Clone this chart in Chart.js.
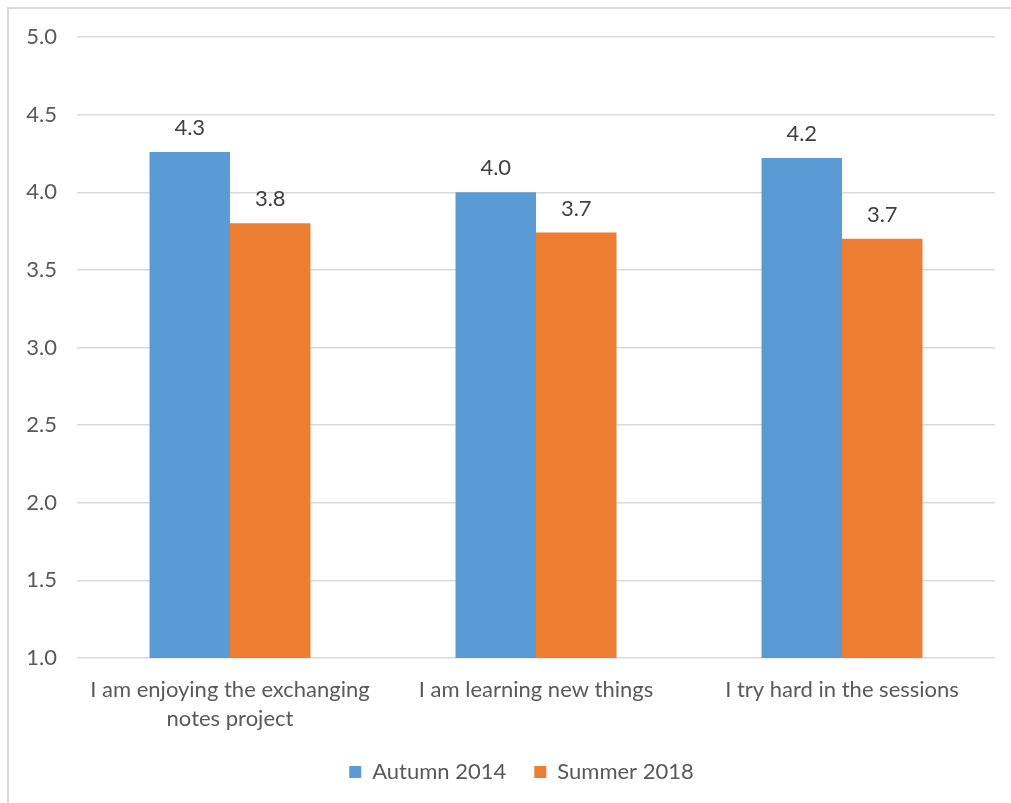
<!DOCTYPE html>
<html>
<head>
<meta charset="utf-8">
<script src="https://cdn.jsdelivr.net/npm/chart.js@4"></script>
<style>
  html, body { margin: 0; padding: 0; background: #fff; overflow: hidden; }
  #wrap { position: relative; width: 1011px; height: 803px; }
  #frame { position: absolute; left: 7px; top: 7px; width: 1100px; height: 900px; border: 2px solid #d9d9d9; box-sizing: border-box; }
  canvas { position: absolute; left: 0; top: 0; }
</style>
</head>
<body>
<div id="wrap">
  <div id="frame"></div>
  <canvas id="c" width="1011" height="803"></canvas>
</div>
<script>
const categories = [
  ["I am enjoying the exchanging", "notes project"],
  "I am learning new things",
  "I try hard in the sessions"
];
const seriesNames = ["Autumn 2014", "Summer 2018"];
const autumn2014 = [4.26, 4.00, 4.22];
const summer2018 = [3.80, 3.74, 3.70];
const colors = ["#5B9BD5", "#ED7D31"];
const yMin = 1.0, yMax = 5.0, yStep = 0.5;

const FONT = "Lato, 'Open Sans', sans-serif";
const FS = 22;

const valueLabels = {
  id: 'valueLabels',
  afterDatasetsDraw(chart) {
    const ctx = chart.ctx;
    ctx.save();
    ctx.font = FS + "px " + FONT;
    ctx.fillStyle = "#404040";
    ctx.textAlign = "center";
    ctx.textBaseline = "middle";
    chart.data.datasets.forEach((ds, i) => {
      const meta = chart.getDatasetMeta(i);
      meta.data.forEach((bar, j) => {
        ctx.fillText(ds.data[j].toFixed(1), bar.x, bar.y - 24);
      });
    });
    ctx.restore();
  }
};

const legendShift = {
  id: 'legendShift',
  afterLayout(chart) {
    if (chart.legend) {
      chart.legend.left += 24;
      chart.legend.right += 24;
    }
  }
};

new Chart(document.getElementById('c'), {
  type: 'bar',
  data: {
    labels: categories,
    datasets: [
      { label: seriesNames[0], data: autumn2014, backgroundColor: colors[0] },
      { label: seriesNames[1], data: summer2018, backgroundColor: colors[1] }
    ]
  },
  options: {
    responsive: false,
    animation: false,
    devicePixelRatio: 1,
    layout: { padding: { top: 37, right: 16, bottom: 10, left: 0 } },
    datasets: { bar: { categoryPercentage: 0.526, barPercentage: 1.0 } },
    scales: {
      x: {
        grid: { display: false, drawTicks: false },
        border: { display: false },
        ticks: {
          color: "#595959",
          font: { family: FONT, size: FS, lineHeight: 1.32 },
          padding: 17,
          maxRotation: 0,
          autoSkip: false
        },
        afterFit(axis) { axis.height = 75; }
      },
      y: {
        min: yMin, max: yMax,
        grid: { color: "#d9d9d9", lineWidth: 1.5, drawTicks: false },
        border: { display: false },
        ticks: {
          stepSize: yStep,
          color: "#595959",
          font: { family: FONT, size: FS },
          padding: 20,
          callback: v => Number(v).toFixed(1)
        },
        afterFit(axis) { axis.width = 77; }
      }
    },
    plugins: {
      legend: {
        position: 'bottom',
        labels: {
          boxWidth: 12,
          boxHeight: 12,
          padding: 28,
          color: "#595959",
          font: { family: FONT, size: FS }
        }
      },
      tooltip: { enabled: false }
    }
  },
  plugins: [valueLabels, legendShift]
});
</script>
</body>
</html>
